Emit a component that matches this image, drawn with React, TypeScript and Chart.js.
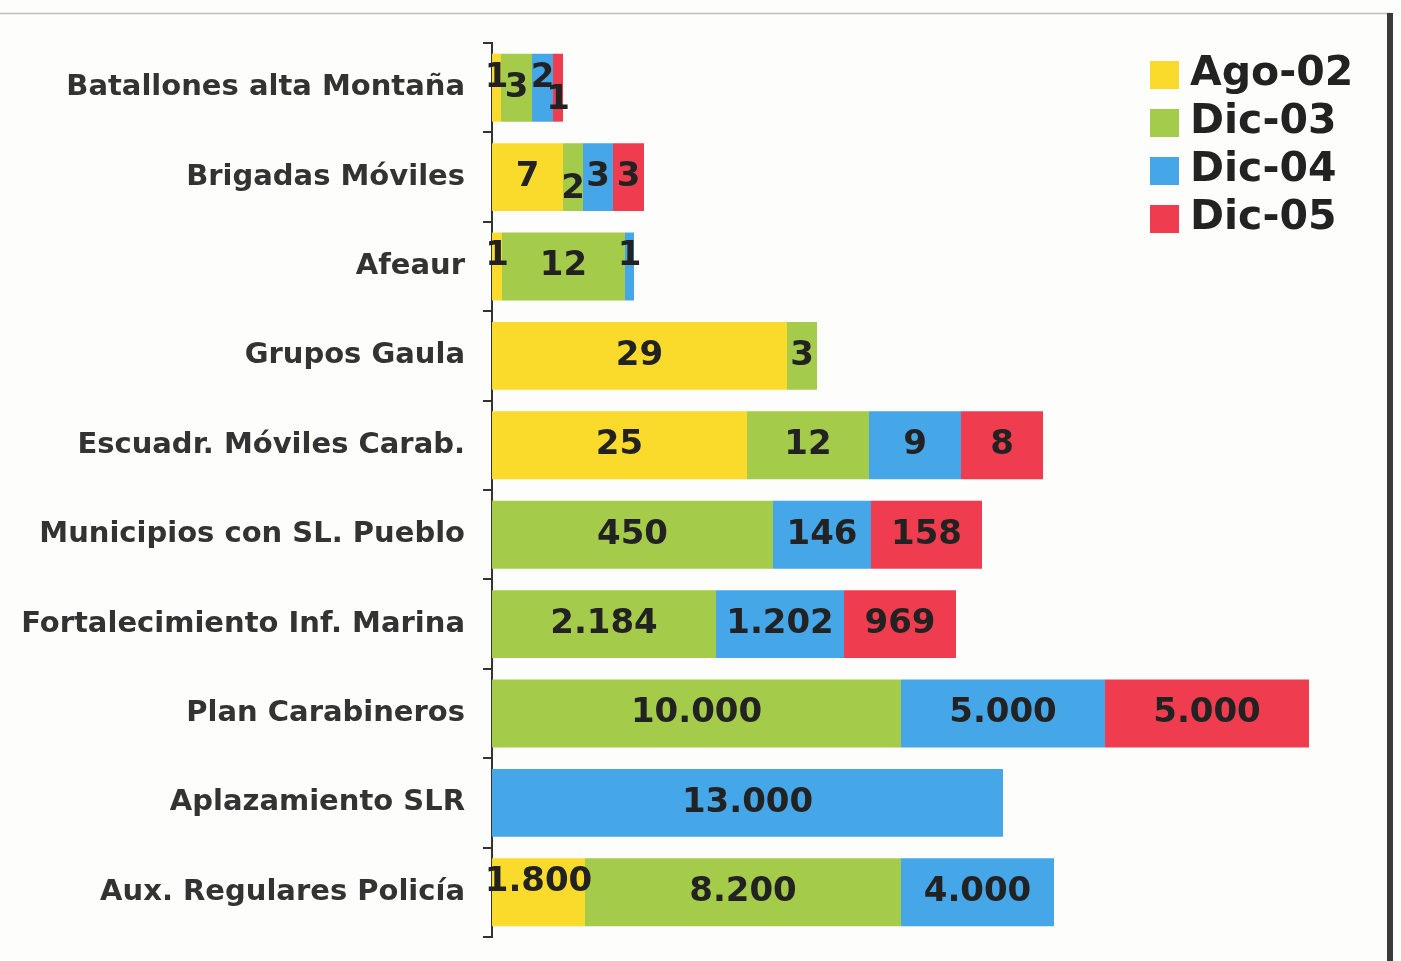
import React, { useEffect, useRef } from "react";
import { Chart, registerables } from "chart.js";

Chart.register(...registerables);

const categories = [
  "Batallones alta Montaña",
  "Brigadas Móviles",
  "Afeaur",
  "Grupos Gaula",
  "Escuadr. Móviles Carab.",
  "Municipios con SL. Pueblo",
  "Fortalecimiento Inf. Marina",
  "Plan Carabineros",
  "Aplazamiento SLR",
  "Aux. Regulares Policía",
];

const seriesNames = ["Ago-02", "Dic-03", "Dic-04", "Dic-05"];

// Bar segment lengths as drawn in the picture (axis units), per series
const ago02Len = [9, 71, 10, 295, 255, null, null, null, null, 93];
const dic03Len = [31, 20, 123, 30, 122, 281, 224, 409, null, 316];
const dic04Len = [21, 30, 9, null, 92, 98, 128, 204, 511, 153];
const dic05Len = [10, 31, null, null, 82, 111, 112, 204, null, null];

// Value labels printed on the segments
const ago02Labels = ["1", "7", "1", "29", "25", "", "", "", "", "1.800"];
const dic03Labels = ["3", "2", "12", "3", "12", "450", "2.184", "10.000", "", "8.200"];
const dic04Labels = ["2", "3", "1", "", "9", "146", "1.202", "5.000", "13.000", "4.000"];
const dic05Labels = ["1", "3", "", "", "8", "158", "969", "5.000", "", ""];

const seriesLens = [ago02Len, dic03Len, dic04Len, dic05Len];
const seriesLabels = [ago02Labels, dic03Labels, dic04Labels, dic05Labels];
const seriesColors = ["#FADB2C", "#A5CB4A", "#45A6E8", "#EF3D4F"];

const FONT = "'DejaVu Sans', Verdana, sans-serif";

const framePlugin = {
  id: "frame",
  beforeDraw(chart: any) {
    const ctx = chart.ctx;
    ctx.save();
    ctx.fillStyle = "#FDFDFB";
    ctx.fillRect(0, 0, chart.width, chart.height);
    ctx.strokeStyle = "#BDBDBD";
    ctx.lineWidth = 1.5;
    ctx.beginPath();
    ctx.moveTo(0, 13.5);
    ctx.lineTo(1392, 13.5);
    ctx.stroke();
    ctx.fillStyle = "#3A3A3A";
    ctx.fillRect(1387, 13, 6, chart.height - 13);
    ctx.restore();
  },
};

const valueLabelPlugin = {
  id: "valueLabels",
  afterDatasetsDraw(chart: any) {
    const ctx = chart.ctx;
    ctx.save();
    ctx.font = `bold 34px ${FONT}`;
    ctx.fillStyle = "#222222";
    ctx.textAlign = "center";
    ctx.textBaseline = "middle";
    chart.data.datasets.forEach((ds: any, di: number) => {
      const meta = chart.getDatasetMeta(di);
      const labels = seriesLabels[di];
      meta.data.forEach((el: any, i: number) => {
        const txt = labels[i];
        if (!txt || ds.data[i] == null) return;
        const x0 = Math.min(el.x, el.base);
        const x1 = Math.max(el.x, el.base);
        const w = x1 - x0;
        const tw = ctx.measureText(txt).width;
        let dy = 0;
        if (tw > w + 2) dy = di % 2 === 0 ? -10 : 12;
        ctx.fillText(txt, (x0 + x1) / 2, el.y + dy);
      });
    });
    ctx.restore();
  },
};

const legendPlugin = {
  id: "customLegend",
  afterDraw(chart: any) {
    const ctx = chart.ctx;
    ctx.save();
    ctx.font = `bold 41px ${FONT}`;
    ctx.textBaseline = "middle";
    ctx.textAlign = "left";
    chart.data.datasets.forEach((ds: any, i: number) => {
      const top = 61 + i * 48;
      ctx.fillStyle = ds.backgroundColor;
      ctx.fillRect(1150, top, 29, 28);
      ctx.fillStyle = "#222222";
      ctx.fillText(ds.label, 1190, top + 13);
    });
    ctx.restore();
  },
};

export default function App() {
  const ref = useRef<HTMLCanvasElement | null>(null);

  useEffect(() => {
    document.body.style.margin = "0";
    const canvas = ref.current;
    if (!canvas) return;
    const chart = new Chart(canvas, {
      type: "bar",
      data: {
        labels: categories,
        datasets: seriesNames.map((name, i) => ({
          label: name,
          data: seriesLens[i] as any,
          backgroundColor: seriesColors[i],
          borderWidth: 0,
          barPercentage: 0.76,
          categoryPercentage: 1,
        })),
      },
      options: {
        indexAxis: "y",
        responsive: false,
        animation: false,
        devicePixelRatio: 1,
        layout: { padding: { top: 43, bottom: 24, left: 0, right: 9 } },
        plugins: {
          legend: { display: false },
          tooltip: { enabled: false },
        },
        scales: {
          x: {
            stacked: true,
            display: false,
            min: 0,
            max: 900,
          },
          y: {
            stacked: true,
            afterFit: (scale: any) => {
              scale.width = 492;
              scale.paddingTop = 0;
              scale.paddingBottom = 0;
            },
            border: { display: true, color: "#333333", width: 2 },
            grid: {
              offset: true,
              drawOnChartArea: false,
              drawTicks: true,
              tickLength: 9,
              color: "#333333",
              lineWidth: 2,
            },
            ticks: {
              padding: 18,
              color: "#333333",
              font: { family: FONT, size: 29, weight: "bold" },
            },
          },
        },
      } as any,
      plugins: [framePlugin, valueLabelPlugin, legendPlugin],
    });
    return () => chart.destroy();
  }, []);

  return (
    <div style={{ width: 1401, height: 961 }}>
      <canvas ref={ref} width={1401} height={961} style={{ display: "block" }} />
    </div>
  );
}
